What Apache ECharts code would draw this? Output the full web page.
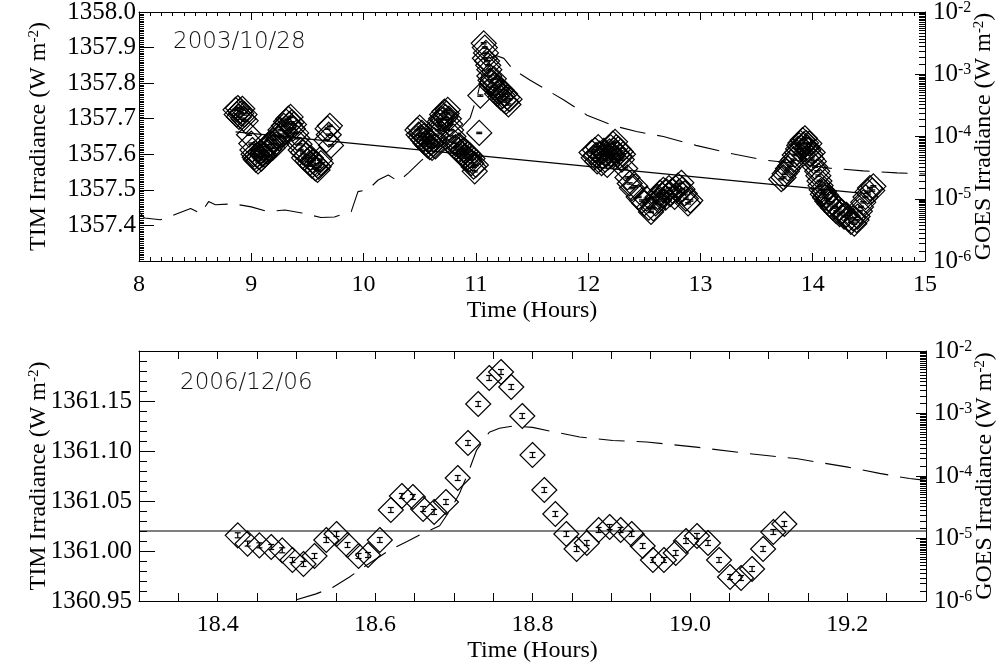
<!DOCTYPE html>
<html>
<head>
<meta charset="utf-8">
<script src="https://cdn.jsdelivr.net/npm/echarts@6/dist/echarts.min.js"></script>
<style>
  html, body { margin: 0; padding: 0; background: #fff; }
  #chart { width: 997px; height: 666px; }
</style>
</head>
<body>
<div id="chart"></div>
<script>
// ---- 2003/10/28 : TIM irradiance samples [hour, W m-2] ----
const topTim = [
  [8.86,1357.725],[8.87,1357.712],[8.88,1357.730],[8.89,1357.705],[8.90,1357.722],[8.91,1357.715],
  [8.92,1357.728],[8.93,1357.700],[8.94,1357.712],[8.95,1357.694],[8.98,1357.655],[9.00,1357.630],
  [9.01,1357.612],[9.02,1357.600],[9.03,1357.592],[9.04,1357.585],[9.05,1357.598],[9.06,1357.580],
  [9.07,1357.592],[9.08,1357.605],[9.09,1357.588],[9.10,1357.600],[9.11,1357.612],[9.12,1357.598],
  [9.13,1357.620],[9.14,1357.608],[9.15,1357.625],[9.16,1357.614],[9.18,1357.630],[9.19,1357.618],
  [9.20,1357.640],[9.22,1357.628],[9.23,1357.652],[9.25,1357.645],[9.26,1357.668],[9.27,1357.655],
  [9.29,1357.680],[9.30,1357.665],[9.31,1357.692],[9.33,1357.700],[9.34,1357.685],[9.35,1357.705],
  [9.36,1357.690],[9.37,1357.672],[9.38,1357.684],[9.40,1357.660],[9.41,1357.645],[9.43,1357.628],
  [9.44,1357.612],[9.46,1357.605],[9.47,1357.590],[9.49,1357.598],[9.50,1357.582],[9.52,1357.575],
  [9.53,1357.590],[9.54,1357.568],[9.55,1357.580],[9.57,1357.560],[9.58,1357.572],[9.59,1357.556],
  [9.60,1357.565],[9.61,1357.585],[9.62,1357.575],[9.67,1357.640],[9.68,1357.672],[9.69,1357.655],
  [9.70,1357.680],[9.71,1357.625],
  [10.48,1357.668],[10.49,1357.655],[10.50,1357.675],[10.51,1357.648],[10.52,1357.660],[10.53,1357.640],
  [10.54,1357.652],[10.55,1357.632],[10.56,1357.645],[10.57,1357.625],[10.58,1357.638],[10.59,1357.620],
  [10.60,1357.632],[10.61,1357.618],[10.62,1357.628],[10.63,1357.640],[10.64,1357.622],[10.65,1357.655],
  [10.66,1357.668],[10.67,1357.680],[10.68,1357.692],[10.69,1357.700],[10.70,1357.712],[10.71,1357.698],
  [10.72,1357.720],[10.73,1357.705],[10.74,1357.715],[10.75,1357.725],[10.76,1357.700],[10.77,1357.685],
  [10.78,1357.668],[10.80,1357.650],[10.81,1357.632],[10.82,1357.620],[10.84,1357.612],[10.85,1357.625],
  [10.86,1357.605],[10.87,1357.618],[10.88,1357.600],[10.89,1357.612],[10.90,1357.595],[10.91,1357.608],
  [10.92,1357.590],[10.93,1357.602],[10.94,1357.585],[10.95,1357.596],[10.96,1357.575],[10.97,1357.588],
  [10.98,1357.565],[10.99,1357.552],[11.00,1357.570],[11.03,1357.660],[11.04,1357.765],
  [11.07,1357.912],[11.08,1357.900],[11.09,1357.885],[11.08,1357.870],[11.10,1357.862],[11.11,1357.850],
  [11.12,1357.838],[11.12,1357.820],[11.13,1357.808],[11.14,1357.800],[11.15,1357.790],[11.16,1357.812],
  [11.17,1357.795],[11.18,1357.782],[11.19,1357.770],[11.20,1357.788],[11.21,1357.775],[11.22,1357.760],
  [11.23,1357.780],[11.24,1357.765],[11.25,1357.752],[11.26,1357.770],[11.27,1357.748],[11.28,1357.760],
  [11.29,1357.740],[11.30,1357.755],
  [12.03,1357.605],[12.05,1357.590],[12.06,1357.612],[12.07,1357.598],[12.08,1357.580],[12.09,1357.620],
  [12.10,1357.602],[12.11,1357.588],[12.12,1357.575],[12.13,1357.595],[12.14,1357.610],[12.15,1357.585],
  [12.16,1357.600],[12.17,1357.570],[12.18,1357.592],[12.19,1357.608],[12.20,1357.620],[12.21,1357.598],
  [12.22,1357.630],[12.23,1357.612],[12.24,1357.635],[12.25,1357.620],[12.26,1357.600],[12.27,1357.615],
  [12.28,1357.595],[12.29,1357.608],[12.30,1357.585],[12.31,1357.600],[12.33,1357.560],[12.35,1357.535],
  [12.37,1357.518],[12.39,1357.505],[12.42,1357.510],[12.45,1357.480],[12.48,1357.470],[12.50,1357.462],
  [12.52,1357.475],[12.54,1357.450],[12.56,1357.438],[12.58,1357.448],[12.60,1357.462],[12.62,1357.480],
  [12.63,1357.470],[12.64,1357.492],[12.66,1357.485],[12.67,1357.500],[12.69,1357.478],[12.70,1357.495],
  [12.72,1357.505],[12.73,1357.488],[12.75,1357.498],[12.77,1357.480],[12.78,1357.505],[12.80,1357.512],
  [12.81,1357.495],[12.83,1357.520],[12.84,1357.502],[12.86,1357.490],[12.87,1357.475],[12.89,1357.462],
  [12.91,1357.470],
  [13.72,1357.530],[13.74,1357.535],[13.75,1357.545],[13.77,1357.552],[13.78,1357.560],[13.80,1357.568],
  [13.81,1357.578],[13.83,1357.585],[13.84,1357.598],[13.86,1357.605],[13.87,1357.615],[13.88,1357.625],
  [13.89,1357.632],[13.90,1357.618],[13.91,1357.640],[13.92,1357.628],[13.93,1357.645],[13.94,1357.632],
  [13.95,1357.620],[13.96,1357.612],[13.97,1357.630],[13.98,1357.600],[13.99,1357.588],[14.00,1357.605],
  [14.01,1357.580],[14.02,1357.565],[14.04,1357.552],[14.05,1357.540],[14.06,1357.525],[14.07,1357.512],
  [14.08,1357.500],[14.09,1357.488],[14.10,1357.495],[14.11,1357.478],[14.12,1357.485],[14.13,1357.468],
  [14.14,1357.475],[14.15,1357.460],[14.17,1357.465],[14.18,1357.450],[14.20,1357.455],[14.21,1357.440],
  [14.23,1357.448],[14.24,1357.432],[14.26,1357.438],[14.28,1357.425],[14.30,1357.430],[14.32,1357.418],
  [14.34,1357.410],[14.36,1357.420],[14.37,1357.405],[14.39,1357.415],[14.40,1357.425],[14.42,1357.440],
  [14.43,1357.452],[14.45,1357.465],[14.47,1357.480],[14.49,1357.495],[14.51,1357.505],[14.53,1357.498],
  [14.54,1357.510]
];
const topErr = 0.002;
const topTrend = [[8.86,1357.663],[14.52,1357.488]];
// GOES X-ray flux [hour, W m-2]
const topGoes = [
  [8.00,6.2e-6],[8.05,4.9e-6],[8.19,4.6e-6],[8.31,5.5e-6],[8.46,7.0e-6],[8.55,5.8e-6],[8.62,9.0e-6],
  [8.68,8.0e-6],[8.84,8.3e-6],[9.00,7.4e-6],[9.15,6.2e-6],[9.30,6.6e-6],[9.45,5.9e-6],[9.62,5.0e-6],
  [9.74,5.1e-6],[9.89,6.2e-6],[9.95,1.3e-5],[10.04,1.4e-5],[10.13,2.0e-5],[10.22,2.4e-5],[10.31,1.9e-5],
  [10.40,2.6e-5],[10.52,4.2e-5],[10.65,6.3e-5],[10.80,1.0e-4],[10.95,2.0e-4],[11.02,5.0e-4],
  [11.06,1.1e-3],[11.12,1.8e-3],[11.18,2.0e-3],[11.25,1.8e-3],[11.33,1.2e-3],[11.48,8.1e-4],
  [11.63,5.6e-4],[11.78,3.9e-4],[11.99,2.2e-4],[12.22,1.5e-4],[12.43,1.2e-4],[12.67,1.0e-4],
  [12.96,7.2e-5],[13.26,5.4e-5],[13.56,4.2e-5],[13.85,3.7e-5],[14.15,3.1e-5],[14.45,2.8e-5],
  [14.75,2.6e-5],[15.00,2.5e-5]
];

// ---- 2006/12/06 ----
const botTim = [
  [18.4255,1361.0157],[18.438,1361.0074],[18.453,1361.0057],[18.468,1361.0040],[18.482,1361.0007],
  [18.495,1360.9910],[18.509,1360.9870],[18.523,1360.9950],[18.538,1361.0110],[18.551,1361.0170],
  [18.565,1361.0060],[18.579,1360.9950],[18.591,1360.9960],[18.606,1361.0110],[18.620,1361.0410],
  [18.634,1361.0550],[18.648,1361.0540],[18.661,1361.0420],[18.675,1361.0390],[18.690,1361.0490],
  [18.705,1361.0730],[18.718,1361.1080],[18.731,1361.1470],[18.745,1361.1730],[18.760,1361.1790],
  [18.773,1361.1640],[18.787,1361.1350],[18.800,1361.0960],[18.815,1361.0610],[18.829,1361.0370],
  [18.843,1361.0170],[18.856,1361.0020],[18.869,1361.0080],[18.884,1361.0210],[18.898,1361.0240],
  [18.912,1361.0210],[18.926,1361.0170],[18.940,1361.0050],[18.953,1360.9910],[18.967,1360.9910],
  [18.982,1360.9980],[18.995,1361.0100],[19.009,1361.0150],[19.023,1361.0080],[19.037,1360.9910],
  [19.051,1360.9740],[19.065,1360.9730],[19.079,1360.9820],[19.093,1361.0020],[19.106,1361.0190],
  [19.120,1361.0270]
];
const botErr = 0.0025;
const botMean = [[18.3,1361.02],[19.3,1361.02]];
const botGoes = [
  [18.500,1.05e-6],[18.525,1.3e-6],[18.546,1.65e-6],[18.567,2.4e-6],[18.590,3.8e-6],[18.618,6.5e-6],
  [18.640,8.9e-6],[18.660,1.2e-5],[18.682,1.6e-5],[18.695,2.8e-5],[18.707,5.2e-5],[18.718,1.1e-4],
  [18.729,2.6e-4],[18.745,5.0e-4],[18.758,5.8e-4],[18.775,6.3e-4],[18.800,6.0e-4],[18.830,5.0e-4],
  [18.860,4.2e-4],[18.902,3.7e-4],[18.945,3.5e-4],[19.008,2.9e-4],[19.072,2.3e-4],[19.135,1.9e-4],
  [19.199,1.4e-4],[19.241,1.1e-4],[19.279,9.1e-5],[19.300,8.5e-5]
];

const serif = 'Liberation Serif';
const black = '#000';
const sup = { n: { fontSize: 24, fontFamily: serif, color: black },
              s: { fontSize: 15, fontFamily: serif, color: black, verticalAlign: 'top' } };

function xAxes(grid, min, max, interval, minorSplit, labelFn) {
  const common = {
    type: 'value', gridIndex: grid, min: min, max: max, interval: interval,
    axisLine: { show: true, lineStyle: { color: black, width: 1 } },
    axisTick: { show: true, inside: true, length: 8, lineStyle: { color: black } },
    minorTick: { show: minorSplit > 1, splitNumber: minorSplit, length: 4, lineStyle: { color: black } },
    splitLine: { show: false }
  };
  return [
    Object.assign({}, common, {
      position: 'bottom',
      name: 'Time (Hours)', nameLocation: 'middle', nameGap: 38, nameMoveOverlap: false,
      nameTextStyle: { fontFamily: serif, fontSize: 24, color: black },
      axisLabel: { margin: 12, fontFamily: serif, fontSize: 24, color: black, formatter: labelFn }
    }),
    Object.assign({}, common, { position: 'top', axisLabel: { show: false } })
  ];
}

function leftAxis(grid, min, max, interval, minorSplit, majorLen, minorLen, margin, labelFn) {
  return {
    type: 'value', gridIndex: grid, position: 'left', min: min, max: max, interval: interval,
    name: '{n|TIM Irradiance (W m}{s|-2}{n|)}', nameLocation: 'middle', nameGap: 88, nameRotate: 90,
    nameMoveOverlap: false,
    nameTextStyle: { rich: sup },
    axisLine: { show: true, lineStyle: { color: black, width: 1 } },
    axisTick: { show: true, inside: true, length: majorLen, lineStyle: { color: black } },
    minorTick: { show: true, splitNumber: minorSplit, length: minorLen, lineStyle: { color: black } },
    splitLine: { show: false },
    axisLabel: { margin: margin, fontFamily: serif, fontSize: 25, color: black, formatter: labelFn }
  };
}

function rightAxis(grid) {
  return {
    type: 'log', logBase: 10, gridIndex: grid, position: 'right', min: 1e-6, max: 1e-2,
    name: '{n|GOES Irradiance (W m}{s|-2}{n|)}', nameLocation: 'middle', nameGap: 47, nameRotate: 90,
    nameMoveOverlap: false,
    nameTextStyle: { rich: sup },
    axisLine: { show: true, lineStyle: { color: black, width: 1 } },
    axisTick: { show: true, inside: true, length: 10, lineStyle: { color: black } },
    minorTick: { show: true, splitNumber: 20, length: 6, lineStyle: { color: black } },
    splitLine: { show: false },
    axisLabel: {
      margin: 8, color: black,
      formatter: function (v) { return '{b|10}{e|' + Math.round(Math.log10(v)) + '}'; },
      rich: { b: { fontSize: 25, fontFamily: serif, color: black },
              e: { fontSize: 16, fontFamily: serif, color: black, verticalAlign: 'top' } }
    }
  };
}

function errorBars(data, err, xi, yi) {
  return {
    type: 'custom', xAxisIndex: xi, yAxisIndex: yi, silent: true, z: 3,
    data: data.map(function (d) { return [d[0], d[1], err]; }),
    encode: { x: 0, y: 1 },
    renderItem: function (params, api) {
      const x = api.value(0), y = api.value(1), e = api.value(2);
      const lo = api.coord([x, y - e]);
      const hi = api.coord([x, y + e]);
      const st = { stroke: black, lineWidth: 1.2 };
      return {
        type: 'group',
        children: [
          { type: 'line', shape: { x1: lo[0], y1: lo[1], x2: hi[0], y2: hi[1] }, style: st },
          { type: 'line', shape: { x1: lo[0] - 3, y1: lo[1], x2: lo[0] + 3, y2: lo[1] }, style: st },
          { type: 'line', shape: { x1: hi[0] - 3, y1: hi[1], x2: hi[0] + 3, y2: hi[1] }, style: st }
        ]
      };
    }
  };
}

function diamonds(data, xi, yi) {
  return {
    type: 'scatter', xAxisIndex: xi, yAxisIndex: yi, silent: true, z: 2,
    symbol: 'diamond', symbolSize: 25, data: data,
    itemStyle: { color: 'none', borderColor: black, borderWidth: 1.2, opacity: 1 }
  };
}

function line(data, xi, yi, dashed) {
  return {
    type: 'line', xAxisIndex: xi, yAxisIndex: yi, data: data, silent: true, z: 4,
    showSymbol: false, symbol: 'none', clip: true,
    lineStyle: { color: black, width: 1.1, type: dashed ? [26, 12] : 'solid' }
  };
}

const chart = echarts.init(document.getElementById('chart'), null, { renderer: 'canvas' });

const option = {
  animation: false,
  backgroundColor: '#fff',
  grid: [
    { left: 139, top: 12, width: 786, height: 249, containLabel: false, outerBoundsMode: 'none' },
    { left: 139, top: 351, width: 787, height: 250, containLabel: false, outerBoundsMode: 'none' }
  ],
  xAxis: [].concat(
    xAxes(0, 8, 15, 1, 10, function (v) { return String(Math.round(v)); }),
    xAxes(1, 18.3, 19.3, 0.05, 1, function (v) {
      const k = Math.round(v * 100);
      return k % 20 === 0 ? (k / 100).toFixed(1) : '';
    })
  ),
  yAxis: [
    leftAxis(0, 1357.3, 1358.0, 0.1, 20, 15, 5, 3, function (v) {
      return v < 1357.35 ? '' : v.toFixed(1);
    }),
    rightAxis(0),
    leftAxis(1, 1360.95, 1361.20, 0.05, 5, 16, 8, 7, function (v) {
      return v > 1361.18 ? '' : v.toFixed(2);
    }),
    rightAxis(1)
  ],
  graphic: [
    { type: 'text', left: 173, top: 31, style: { text: '2003/10/28', font: '200 23px "DejaVu Sans"', fill: '#111' } },
    { type: 'text', left: 180, top: 372, style: { text: '2006/12/06', font: '200 23px "DejaVu Sans"', fill: '#111' } }
  ],
  series: [
    line(topGoes, 0, 1, true),
    line(topTrend, 0, 0, false),
    diamonds(topTim, 0, 0),
    errorBars(topTim, topErr, 0, 0),
    line(botGoes, 2, 3, true),
    line(botMean, 2, 2, false),
    diamonds(botTim, 2, 2),
    errorBars(botTim, botErr, 2, 2)
  ]
};

chart.setOption(option);
window.addEventListener('resize', function () { chart.resize(); });
</script>
</body>
</html>
